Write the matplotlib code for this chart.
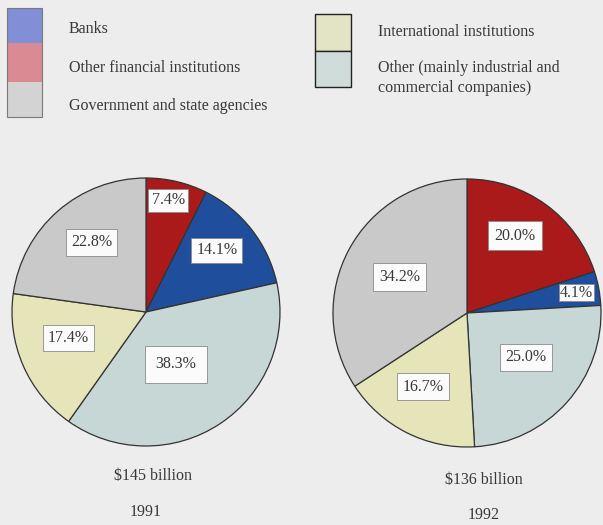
import numpy as np
import matplotlib
matplotlib.use("Agg")
import matplotlib.pyplot as plt
from matplotlib.patches import Rectangle

# Holders of the debt, share of total (%)
categories = ["Other financial institutions", "Banks",
              "Other (mainly industrial and commercial companies)",
              "International institutions", "Government and state agencies"]
shares_1991 = [7.4, 14.1, 38.3, 17.4, 22.8]
shares_1992 = [20.0, 4.1, 25.0, 16.7, 34.2]
totals = ["$145 billion", "$136 billion"]
years = ["1991", "1992"]

colors = ["#aa1a1a", "#1f4f9c", "#c6d7d6", "#e6e4b9", "#c9c9c9"]
BG = "#ededed"
TXT = "#383838"
FS = 11.5

W, H = 603, 525
plt.rcParams["font.family"] = ["Liberation Serif", "DejaVu Serif"]
fig = plt.figure(figsize=(W / 100, H / 100), dpi=100, facecolor=BG)


def fx(x):
    return x / W


def fy(y):
    return 1 - y / H


# label placement per wedge: radial fraction, angular nudge (deg), box padding
label_radius = [[0.85, 0.70, 0.45, 0.61, 0.66],
                [0.68, 0.83, 0.55, 0.64, 0.57]]
label_nudge = [[-2, -3, 4, 5, 3],
               [-4, 0, -5, 4, 0]]
label_pad = [[0.22, 0.3, 0.65, 0.33, 0.33],
             [0.4, 0.05, 0.35, 0.35, 0.38]]
centers = [(146, 312), (467, 313)]
R = 134  # pie radius in pixels
LIM = 1.02

for i, vals in enumerate([shares_1991, shares_1992]):
    cx, cy = centers[i]
    half = R * LIM
    ax = fig.add_axes([fx(cx - half), fy(cy + half), 2 * half / W, 2 * half / H])
    ax.pie(vals, colors=colors, startangle=90, counterclock=False,
           wedgeprops=dict(edgecolor="#333333", linewidth=0.9))
    ax.set_xlim(-LIM, LIM)
    ax.set_ylim(-LIM, LIM)
    ax.set_aspect("auto")
    ax.axis("off")
    total = sum(vals)
    cum = 0.0
    for j, v in enumerate(vals):
        mid = (cum + v / 2) / total * 2 * np.pi + np.radians(label_nudge[i][j])
        cum += v
        f = label_radius[i][j]
        ax.text(f * np.sin(mid), f * np.cos(mid), f"{v:.1f}%",
                ha="center", va="center", fontsize=FS, color=TXT,
                bbox=dict(boxstyle=f"square,pad={label_pad[i][j]}",
                          facecolor="#fbfbfb", edgecolor="#8a8a8a",
                          linewidth=0.6))

# bottom captions
fig.text(fx(153), fy(476), totals[0], ha="center", va="center", fontsize=FS, color=TXT)
fig.text(fx(146), fy(512), years[0], ha="center", va="center", fontsize=FS, color=TXT)
fig.text(fx(484), fy(480), totals[1], ha="center", va="center", fontsize=FS, color=TXT)
fig.text(fx(484), fy(515), years[1], ha="center", va="center", fontsize=FS, color=TXT)


# legend swatches
def swatch(x0, y0, x1, y1, color, edge="none", lw=0):
    fig.add_artist(Rectangle((fx(x0), fy(y1)), fx(x1) - fx(x0), fy(y0) - fy(y1),
                             transform=fig.transFigure, facecolor=color,
                             edgecolor=edge, linewidth=lw))


swatch(7, 8, 42, 43, "#808fd6")
swatch(7, 43, 42, 82, "#d98a93")
swatch(7, 82, 42, 117, "#d3d3d3")
swatch(7, 8, 42, 117, "none", "#7a7a7a", 0.8)
swatch(315, 14, 351, 51, "#e3e4c5", "#222222", 1.0)
swatch(315, 51, 351, 87, "#d0dcd9", "#222222", 1.0)

leg_kw = dict(ha="left", va="center", fontsize=FS, color=TXT)
fig.text(fx(69), fy(29), "Banks", **leg_kw)
fig.text(fx(69), fy(68), categories[0], **leg_kw)
fig.text(fx(69), fy(106), categories[4], **leg_kw)
fig.text(fx(378), fy(32), categories[3], **leg_kw)
fig.text(fx(378), fy(68), "Other (mainly industrial and", **leg_kw)
fig.text(fx(378), fy(88), "commercial companies)", **leg_kw)

fig.savefig("out.png", dpi=100, facecolor=BG)
